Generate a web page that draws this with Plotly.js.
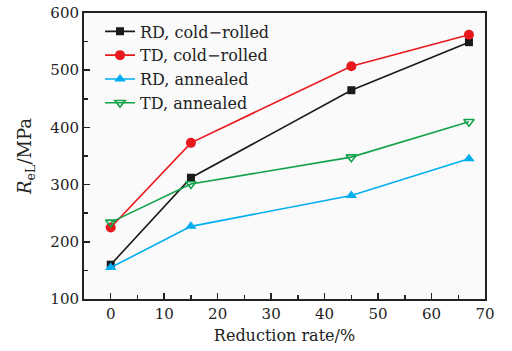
<!DOCTYPE html>
<html><head><meta charset="utf-8">
<script src="https://cdn.plot.ly/plotly-3.0.1.min.js"></script>
<style>html,body{margin:0;padding:0;background:#fff}</style>
</head><body><div id="chart" style="width:512px;height:351px"></div>
<script>
const reduction = [0, 15, 45, 67];
const rdCold = [160, 312, 465, 549];
const tdCold = [225, 373, 507, 562];
const rdAnneal = [155, 227, 281, 345];
const tdAnneal = [234, 301, 348, 410];
const names = ["RD, cold\u2212rolled", "TD, cold\u2212rolled", "RD, annealed", "TD, annealed"];
const xTicks = [0, 10, 20, 30, 40, 50, 60, 70];
const yTicks = [100, 200, 300, 400, 500, 600];

const traces = [
  {x: reduction, y: rdCold, name: names[0], mode: "lines+markers",
   line: {color: "#1a1a1a", width: 1.6}, marker: {symbol: "square", size: 8, color: "#1a1a1a"}},
  {x: reduction, y: tdCold, name: names[1], mode: "lines+markers",
   line: {color: "#e8191c", width: 1.6}, marker: {symbol: "circle", size: 10, color: "#e8191c"}},
  {x: reduction, y: rdAnneal, name: names[2], mode: "lines+markers",
   line: {color: "#00aeef", width: 1.6}, marker: {symbol: "triangle-up", size: 10, color: "#00aeef"}},
  {x: reduction, y: tdAnneal, name: names[3], mode: "lines+markers",
   line: {color: "#13a14a", width: 1.6}, marker: {symbol: "triangle-down-open", size: 9, color: "#13a14a", line: {width: 1.6}}}
];

const layout = {
  width: 512, height: 351,
  margin: {l: 84, r: 27, t: 13, b: 52},
  paper_bgcolor: "#ffffff",
  plot_bgcolor: "#fafafa",
  font: {family: "DejaVu Serif, Liberation Serif, serif", size: 15, color: "#222"},
  showlegend: true,
  legend: {x: 0.04, y: 0.995, xanchor: "left", yanchor: "top", bgcolor: "rgba(0,0,0,0)",
           font: {size: 16, color: "#222"}, tracegroupgap: 0},
  xaxis: {
    range: [-5, 70], tickvals: xTicks, ticktext: xTicks.map(String),
    ticks: "inside", ticklen: 6, tickwidth: 1.5, tickcolor: "#222",
    minor: {dtick: 5, ticks: "inside", ticklen: 4, tickwidth: 1.5, tickcolor: "#222", showgrid: false},
    showline: true, linecolor: "#222", linewidth: 2, mirror: true,
    showgrid: false, zeroline: false,
    title: {text: "Reduction rate/%", font: {size: 16}, standoff: 8},
    tickfont: {size: 15}
  },
  yaxis: {
    range: [100, 600], tickvals: yTicks, ticktext: yTicks.map(String),
    ticks: "inside", ticklen: 6, tickwidth: 1.5, tickcolor: "#222",
    minor: {dtick: 50, ticks: "inside", ticklen: 4, tickwidth: 1.5, tickcolor: "#222", showgrid: false},
    showline: true, linecolor: "#222", linewidth: 2, mirror: true,
    showgrid: false, zeroline: false,
    title: {text: "<i>R</i><sub>eL</sub>/MPa", font: {size: 18}, standoff: 14},
    tickfont: {size: 15}
  }
};
Plotly.newPlot("chart", traces, layout, {displayModeBar: false, staticPlot: true});
</script></body></html>
